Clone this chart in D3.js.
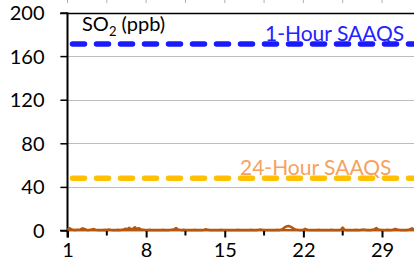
<!DOCTYPE html>
<html>
<head>
    <meta charset="utf-8">
    <script src="https://d3js.org/d3.v7.min.js"></script>
    <style>
        html, body {
            margin: 0;
            padding: 0;
            overflow: hidden;
            background: #fff;
        }
        text {
            font-family: Lato, "Open Sans", sans-serif;
        }
    </style>
</head>
<body>
<svg id="chart" width="414" height="260"></svg>
<script>
// SO2 concentration, ppb, 4-hourly, starting day 1 00:00
var so2 = [
    0.8, 2.1, 1.2, 0.6, 0.5, 0.7,
    0.6, 1.0, 2.0, 1.4, 0.7, 0.5,
    0.6, 0.9, 1.3, 0.8, 0.5, 0.4,
    0.4, 0.5, 0.6, 0.5, 0.9, 0.6,
    0.5, 0.4, 0.5, 0.6, 0.5, 0.7,
    0.9, 1.6, 1.2, 2.4, 1.1, 1.8,
    2.9, 1.5, 2.2, 1.3, 0.8, 0.6,
    0.5, 0.4, 0.6, 0.5, 0.4, 0.5,
    0.4, 0.5, 0.4, 0.6, 0.5, 0.4,
    0.5, 0.6, 0.8, 1.2, 2.3, 1.0,
    0.7, 0.5, 0.6, 0.5, 0.4, 0.5,
    0.4, 0.5, 0.6, 0.5, 0.4, 0.4,
    0.5, 0.7, 1.1, 0.6, 0.5, 0.4,
    0.4, 0.5, 0.4, 0.5, 0.6, 0.5,
    0.4, 0.4, 0.5, 0.4, 0.5, 0.4,
    0.5, 0.7, 0.5, 0.4, 0.5, 0.4,
    0.4, 0.5, 0.6, 0.5, 0.4, 0.5,
    0.6, 1.0, 0.7, 0.5, 0.4, 0.5,
    0.4, 0.5, 0.4, 0.5, 0.6, 0.5,
    0.6, 1.4, 2.8, 3.8, 4.2, 3.5,
    2.6, 1.5, 0.8, 0.6, 0.5, 0.4,
    0.5, 1.5, 0.7, 0.5, 0.4, 0.5,
    0.4, 0.5, 0.6, 0.5, 0.4, 0.5,
    0.4, 0.5, 0.4, 0.6, 0.5, 0.4,
    0.5, 0.4, 0.6, 2.6, 0.6, 0.5,
    0.4, 0.5, 0.4, 0.5, 0.6, 0.5,
    0.5, 0.6, 1.0, 0.6, 0.5, 0.4,
    0.5, 0.6, 1.2, 2.2, 1.0, 0.6,
    0.5, 0.4, 0.5, 0.6, 0.5, 0.4,
    0.6, 1.5, 0.9, 0.6, 0.5, 0.4,
    0.5, 0.4, 0.6, 1.1, 2.1, 0.8
];
var stepsPerDay = 6;

var yTicks = [0, 40, 80, 120, 160, 200];
var xLabelTicks = [1, 8, 15, 22, 29];
var xMinorTicks = [4.5, 11.5, 18.5, 25.5];

var standards = [
    {name: "1-Hour SAAQS", value: 171},
    {name: "24-Hour SAAQS", value: 48}
];

var svg = d3.select("#chart");

var x = d3.scaleLinear().domain([1, 32]).range([67.5, 415.7]);
var y = d3.scaleLinear().domain([0, 200]).range([230.5, 12.5]);

// faint ticks of the chart above, cut off at the top edge
svg.append("g")
    .selectAll("line")
    .data(xLabelTicks.concat(xMinorTicks))
    .enter().append("line")
    .attr("x1", function(d) { return x(d); })
    .attr("x2", function(d) { return x(d); })
    .attr("y1", 0)
    .attr("y2", 3)
    .attr("stroke", "#b0b0b0")
    .attr("stroke-width", 1);

// gridlines
svg.append("g")
    .selectAll("line")
    .data(yTicks.filter(function(d) { return d > 0; }))
    .enter().append("line")
    .attr("x1", 60)
    .attr("x2", 414)
    .attr("y1", function(d) { return Math.round(y(d)) + 0.5; })
    .attr("y2", function(d) { return Math.round(y(d)) + 0.5; })
    .attr("stroke", function(d) { return d === 200 ? "#000" : "#bdbdbd"; })
    .attr("stroke-width", function(d) { return d === 200 ? 1.5 : 1.2; });

// y axis
var yAxis = d3.axisLeft(y)
    .tickValues(yTicks)
    .tickSize(7)
    .tickPadding(16)
    .tickFormat(d3.format("d"));

var gy = svg.append("g")
    .attr("transform", "translate(" + x(1) + ",0)")
    .call(yAxis);
gy.select(".domain").remove();
gy.selectAll(".tick line").attr("stroke", "#000").attr("stroke-width", 1.5);
gy.selectAll(".tick text")
    .attr("font-size", 20)
    .attr("fill", "#000")
    .attr("dy", "0.35em");
svg.append("line")
    .attr("x1", x(1)).attr("x2", x(1))
    .attr("y1", y(200)).attr("y2", y(0) + 7)
    .attr("stroke", "#000")
    .attr("stroke-width", 2);

// x axis
var xAxis = d3.axisBottom(x)
    .tickValues(xLabelTicks)
    .tickSize(7)
    .tickPadding(5)
    .tickFormat(d3.format("d"));

var gx = svg.append("g")
    .attr("transform", "translate(0," + y(0) + ")")
    .call(xAxis);
gx.select(".domain").remove();
gx.selectAll(".tick line").attr("stroke", "#000").attr("stroke-width", 2);
gx.selectAll(".tick text")
    .attr("font-size", 20)
    .attr("fill", "#000")
    .attr("dy", "0.72em");

svg.append("g")
    .selectAll("line")
    .data(xMinorTicks)
    .enter().append("line")
    .attr("x1", function(d) { return x(d); })
    .attr("x2", function(d) { return x(d); })
    .attr("y1", y(0))
    .attr("y2", y(0) + 5)
    .attr("stroke", "#000")
    .attr("stroke-width", 2);

// standards
var stdColors = ["#1a1aff", "#ffc000"];
var stdText = ["#2323ff", "#f6a25e"];

svg.append("g")
    .selectAll("line")
    .data(standards)
    .enter().append("line")
    .attr("x1", x(1) + 2)
    .attr("x2", 414)
    .attr("y1", function(d) { return y(d.value); })
    .attr("y2", function(d) { return y(d.value); })
    .attr("stroke", function(d, i) { return stdColors[i]; })
    .attr("stroke-width", 5.5)
    .attr("stroke-linecap", "round")
    .attr("stroke-dasharray", "12,12")
    .attr("stroke-dashoffset", -3);

// SO2 series
var line = d3.line()
    .x(function(d, i) { return x(1 + i / stepsPerDay); })
    .y(function(d) { return y(d); });

svg.append("path")
    .datum(so2)
    .attr("fill", "none")
    .attr("stroke", "#b5570f")
    .attr("stroke-width", 2.5)
    .attr("stroke-linejoin", "round")
    .attr("d", line);

// x axis line on top of the series
svg.append("line")
    .attr("x1", 60).attr("x2", 414)
    .attr("y1", y(0)).attr("y2", y(0))
    .attr("stroke", "#000")
    .attr("stroke-width", 1.5);
svg.append("line")
    .attr("x1", x(1)).attr("x2", 414)
    .attr("y1", y(0) - 0.5).attr("y2", y(0) - 0.5)
    .attr("stroke", "#b5570f")
    .attr("stroke-width", 2);

// labels
svg.append("g")
    .selectAll("text")
    .data(standards)
    .enter().append("text")
    .attr("x", function(d, i) { return i === 0 ? 265 : 240; })
    .attr("y", function(d) { return y(d.value) - 3; })
    .attr("font-size", 21)
    .attr("fill", function(d, i) { return stdText[i]; })
    .text(function(d) { return d.name; });

var title = svg.append("text")
    .attr("x", 82)
    .attr("y", 31)
    .attr("fill", "#000");
title.append("tspan").attr("font-size", 20).text("SO");
title.append("tspan").attr("font-size", 13).attr("dy", 5).text("2");
title.append("tspan").attr("font-size", 20).attr("dy", -5).text("\u00a0(ppb)");
</script>
</body>
</html>
